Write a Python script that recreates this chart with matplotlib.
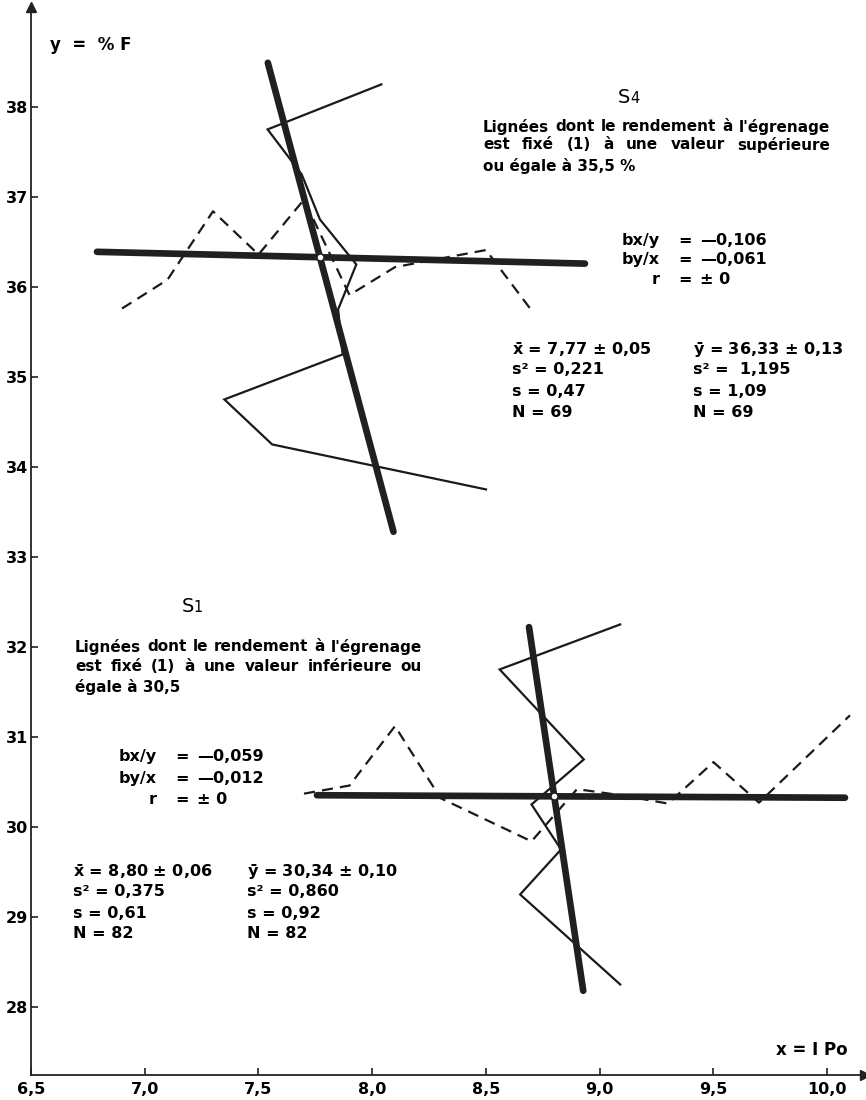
import numpy as np
import matplotlib.pyplot as plt

plt.rcParams['font.family'] = ['DejaVu Sans']
plt.rcParams['font.weight'] = 'bold'

# ---- S4 : ginning yield fixed at >= 35.5 %
s4_y_classes = [38.25, 37.75, 37.25, 36.75, 36.25, 35.75, 35.25, 34.75, 34.25, 33.75]
s4_x_means = [8.04, 7.54, 7.69, 7.77, 7.93, 7.85, 7.87, 7.35, 7.56, 8.50]
s4_x_classes = [6.9, 7.1, 7.3, 7.5, 7.7, 7.9, 8.1, 8.5, 8.7]
s4_y_means = [35.76, 36.08, 36.84, 36.36, 36.97, 35.91, 36.22, 36.41, 35.74]
s4_mean = (7.77, 36.33)
s4_bxy, s4_byx = -0.106, -0.061
s4_x_span = (6.79, 8.935)
s4_y_span = (33.28, 38.49)

# ---- S1 : ginning yield fixed at <= 30.5
s1_y_classes = [32.25, 31.75, 30.75, 30.25, 29.75, 29.25, 28.25]
s1_x_means = [9.09, 8.56, 8.93, 8.70, 8.83, 8.65, 9.09]
s1_x_classes = [7.7, 7.9, 8.1, 8.3, 8.7, 8.9, 9.1, 9.3, 9.5, 9.7, 10.1]
s1_y_means = [30.37, 30.46, 31.12, 30.32, 29.84, 30.42, 30.35, 30.26, 30.72, 30.27, 31.24]
s1_mean = (8.80, 30.34)
s1_bxy, s1_byx = -0.059, -0.012
s1_x_span = (7.757, 10.078)
s1_y_span = (28.18, 32.22)

x_ticks = [6.5, 7.0, 7.5, 8.0, 8.5, 9.0, 9.5, 10.0]
y_ticks = [28, 29, 30, 31, 32, 33, 34, 35, 36, 37, 38]

s4_stats_x = [r"$\mathregular{\bar{x}}$ = 7,77 ± 0,05", "s² = 0,221", "s = 0,47", "N = 69"]
s4_stats_y = [r"$\mathregular{\bar{y}}$ = 36,33 ± 0,13", "s² =  1,195", "s = 1,09", "N = 69"]
s1_stats_x = [r"$\mathregular{\bar{x}}$ = 8,80 ± 0,06", "s² = 0,375", "s = 0,61", "N = 82"]
s1_stats_y = [r"$\mathregular{\bar{y}}$ = 30,34 ± 0,10", "s² = 0,860", "s = 0,92", "N = 82"]
s4_coef = [("bx/y", "—0,106"), ("by/x", "—0,061"), ("r", "± 0")]
s1_coef = [("bx/y", "—0,059"), ("by/x", "—0,012"), ("r", "± 0")]

fig = plt.figure(figsize=(8.66, 11), dpi=100)
ax = fig.add_axes([31 / 866, 25 / 1100, 834 / 866, 1068 / 1100])
ax.set_xlim(6.5, 10.166)
ax.set_ylim(27.244, 39.11)


def draw_group(ax, y_cls, x_means, x_cls, y_means, mean, bxy, byx, xspan, yspan):
    ax.plot(x_means, y_cls, color='#1a1a1a', lw=1.6, solid_joinstyle='miter')
    ax.plot(x_cls, y_means, color='#1a1a1a', lw=1.6, linestyle=(0, (5, 3.2)))
    # regression of y on x
    xs = np.array(xspan)
    ax.plot(xs, mean[1] + byx * (xs - mean[0]), color='#202020', lw=4.8,
            solid_capstyle='round')
    # regression of x on y
    ys = np.array(yspan)
    ax.plot(mean[0] + bxy * (ys - mean[1]), ys, color='#202020', lw=4.8,
            solid_capstyle='round')
    ax.plot(*mean, 'o', ms=5, mfc='white', mec='#202020', mew=1.0, zorder=5)


draw_group(ax, s4_y_classes, s4_x_means, s4_x_classes, s4_y_means,
           s4_mean, s4_bxy, s4_byx, s4_x_span, s4_y_span)
draw_group(ax, s1_y_classes, s1_x_means, s1_x_classes, s1_y_means,
           s1_mean, s1_bxy, s1_byx, s1_x_span, s1_y_span)

# axes with arrows
for side in ('top', 'right'):
    ax.spines[side].set_visible(False)
for side in ('left', 'bottom'):
    ax.spines[side].set_linewidth(1.3)
    ax.spines[side].set_color('#222222')
ax.plot(0, 1, '^', ms=7, color='#222222', transform=ax.transAxes, clip_on=False)
ax.plot(1, 0, '>', ms=7, color='#222222', transform=ax.transAxes, clip_on=False)

ax.set_xticks(x_ticks)
ax.set_xticklabels([f"{v:.1f}".replace('.', ',') for v in x_ticks])
ax.set_yticks(y_ticks)
ax.set_yticklabels([str(v) for v in y_ticks])
ax.tick_params(direction='in', length=5, width=1.2, color='#222222',
               labelsize=11.5)
ax.tick_params(axis='x', pad=5)
ax.tick_params(axis='y', pad=2)

ax.text(6.584, 38.69, "y  =  % F", fontsize=12, va='center')
ax.text(10.09, 27.52, "x = I Po", fontsize=12, va='center', ha='right')

renderer = fig.canvas.get_renderer()


def justified(ax, x0, x1, y, line, size):
    words = line.split()
    texts = [ax.text(x0, y, w, fontsize=size, va='center') for w in words]
    widths = [t.get_window_extent(renderer).width for t in texts]
    p0 = ax.transData.transform((x0, y))[0]
    p1 = ax.transData.transform((x1, y))[0]
    gap = (p1 - p0 - sum(widths)) / (len(words) - 1)
    pos = p0
    for t, w in zip(texts, widths):
        t.set_x(ax.transData.inverted().transform((pos, 0))[0])
        pos += w + gap


def description(ax, x0, x1, ys, lines, size=11):
    for y, line in zip(ys[:-1], lines[:-1]):
        justified(ax, x0, x1, y, line, size)
    ax.text(x0, ys[-1], lines[-1], fontsize=size, va='center')


def series_label(ax, x, y, digit):
    ax.text(x, y, "S", fontsize=14, fontweight='normal', ha='right', va='baseline')
    ax.text(x, y, digit, fontsize=10.5, fontweight='normal', ha='left', va='baseline')


def coef_block(ax, x_eq, ys, rows, size=11.5):
    for y, (name, val) in zip(ys, rows):
        ax.text(x_eq - 0.11, y, name, fontsize=size, ha='right', va='center')
        ax.text(x_eq, y, "=", fontsize=size, ha='center', va='center')
        ax.text(x_eq + 0.065, y, val, fontsize=size, ha='left', va='center')


def stats_block(ax, x, ys, rows, size=11.5):
    for y, row in zip(ys, rows):
        ax.text(x, y, row, fontsize=size, ha='left', va='center')


series_label(ax, 9.133, 38.04, "4")
description(ax, 8.487, 10.012, [37.78, 37.58, 37.34],
            ["Lignées dont le rendement à l'égrenage",
             "est fixé (1) à une valeur supérieure",
             "ou égale à 35,5 %"])
coef_block(ax, 9.375, [36.52, 36.30, 36.08], s4_coef)
stats_block(ax, 8.614, [35.30, 35.08, 34.84, 34.61], s4_stats_x)
stats_block(ax, 9.41, [35.30, 35.08, 34.84, 34.61], s4_stats_y)

series_label(ax, 7.216, 32.39, "1")
description(ax, 6.693, 8.219, [32.00, 31.78, 31.56],
            ["Lignées dont le rendement à l'égrenage",
             "est fixé (1) à une valeur inférieure ou",
             "égale à 30,5"])
coef_block(ax, 7.164, [30.78, 30.54, 30.31], s1_coef)
stats_block(ax, 6.685, [29.50, 29.28, 29.04, 28.82], s1_stats_x)
stats_block(ax, 7.449, [29.50, 29.28, 29.04, 28.82], s1_stats_y)

fig.savefig("out.png", dpi=100, facecolor='white')
